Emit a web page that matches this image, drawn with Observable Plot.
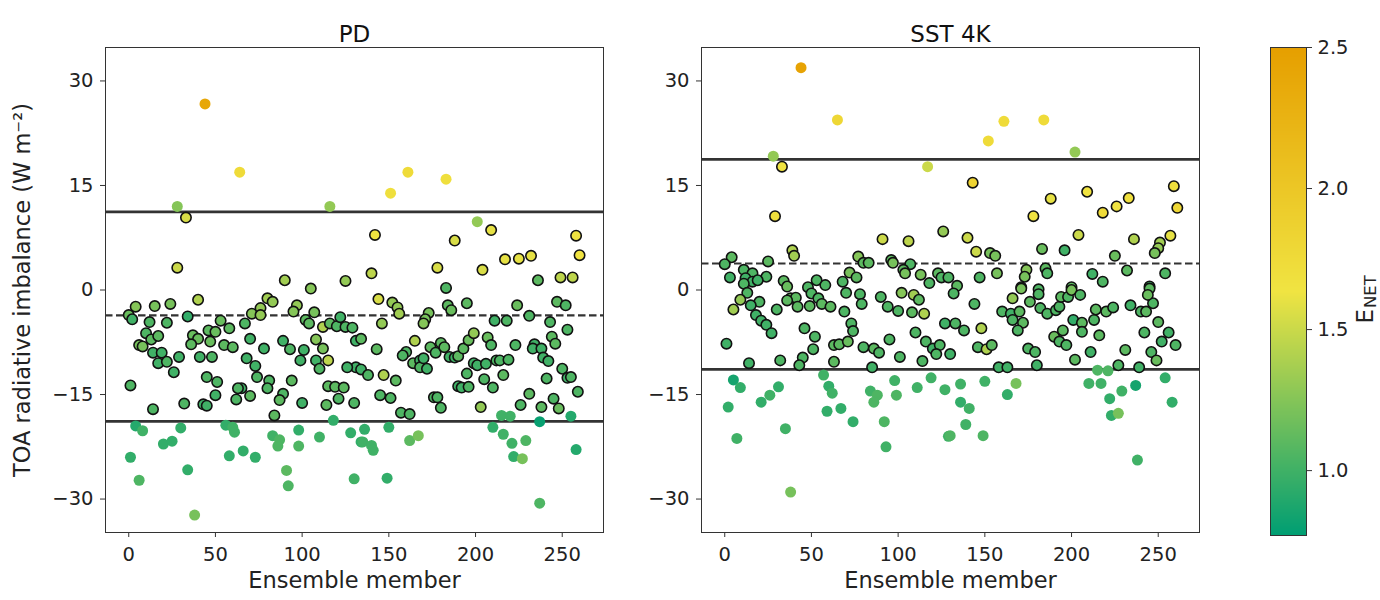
<!DOCTYPE html>
<html>
<head>
<meta charset="utf-8">
<script src="https://cdn.jsdelivr.net/npm/d3@7"></script>
<script src="https://cdn.jsdelivr.net/npm/@observablehq/plot@0.6"></script>
<style>
  html, body { margin: 0; padding: 0; background: #fff; }
  #fig { position: relative; width: 1380px; height: 600px; overflow: hidden; }
  #fig > svg { position: absolute; top: 0; }
</style>
</head>
<body>
<div id="fig"></div>
<script>
// Each run: [ensemble member, TOA radiative imbalance (W m-2), E_NET, inside the plausible band (1/0)]
const pdRuns = [
  [44,26.7,2.40,0],[64,16.9,1.75,0],[28,12.0,1.25,0],[33,10.4,1.55,1],[116,12.0,1.30,0],
  [28,3.2,1.50,1],[90,1.4,1.35,1],[105,0.2,1.25,1],[125,1.3,1.30,1],
  [161,16.9,1.75,0],[151,13.9,1.70,0],[183,15.9,1.70,0],[201,9.8,1.30,0],[209,8.6,1.60,1],
  [142,7.9,1.65,1],[188,7.1,1.55,1],[258,7.8,1.65,1],[260,5.0,1.65,1],[217,4.4,1.60,1],
  [225,4.5,1.60,1],[232,4.9,1.60,1],[178,3.2,1.55,1],[140,2.4,1.45,1],[204,2.9,1.55,1],
  [236,1.4,1.10,1],[249,1.8,1.45,1],[256,1.8,1.45,1],[183,0.3,1.05,1],
  [40,-1.4,1.40,1],[4,-2.4,1.25,1],[15,-2.3,1.20,1],[24,-2.0,1.20,1],[0,-3.6,1.15,1],
  [2,-4.2,1.00,1],[12,-4.6,1.05,1],[34,-3.8,0.95,1],[22,-4.7,1.05,1],[10,-6.2,1.05,1],
  [6,-7.9,1.20,1],[8,-8.1,1.20,1],[13,-7.1,1.10,1],[17,-6.6,1.10,1],[14,-9.0,1.00,1],
  [19,-9.0,1.00,1],[17,-10.5,1.00,1],[22,-10.3,1.05,1],[26,-11.8,1.00,1],[29,-9.6,1.00,1],
  [1,-13.7,1.05,1],[14,-17.1,1.05,1],[32,-16.3,1.05,1],[37,-6.5,1.15,1],[40,-7.0,1.15,1],
  [36,-7.8,1.10,1],[41,-9.6,1.00,1],[46,-5.8,1.10,1],[50,-6.0,1.15,1],[53,-4.4,1.15,1],
  [58,-5.5,1.10,1],[47,-7.4,1.15,1],[55,-7.9,1.10,1],[60,-8.2,1.10,1],[48,-9.6,1.05,1],
  [45,-12.5,1.05,1],[51,-13.2,1.05,1],[50,-15.1,1.00,1],[43,-16.4,1.00,1],[45,-16.6,1.00,1],
  [62,-15.7,1.05,1],[65,-14.1,1.00,1],[63,-14.1,1.05,1],[70,-15.2,1.10,1],[67,-4.8,1.05,1],
  [71,-3.4,1.25,1],[76,-2.6,1.30,1],[80,-1.2,1.35,1],[83,-1.7,1.30,1],[76,-3.6,1.30,1],
  [70,-7.0,1.00,1],[68,-9.8,1.00,1],[73,-10.9,1.00,1],[74,-12.5,1.05,1],[78,-8.4,1.00,1],
  [81,-13.0,1.05,1],[80,-14.1,1.05,1],[89,-14.9,1.05,1],[87,-15.8,1.10,1],[84,-18.0,1.10,1],
  [89,-7.3,1.00,1],[93,-8.5,1.05,1],[97,-2.2,1.30,1],[95,-3.1,1.25,1],[107,-3.2,1.20,1],
  [102,-4.3,1.10,1],[104,-4.8,1.10,1],[101,-8.6,1.00,1],[99,-10.1,1.00,1],[94,-13.0,1.10,1],
  [100,-16.2,1.00,1],[108,-7.1,1.25,1],[112,-8.4,1.20,1],[108,-10.1,1.00,1],[110,-11.3,1.05,1],
  [115,-10.1,1.45,1],[112,-5.3,1.40,1],[116,-4.8,1.10,1],[120,-5.2,1.05,1],[125,-5.3,1.05,1],
  [129,-5.4,1.05,1],[122,-3.9,1.00,1],[115,-13.8,1.10,1],[119,-13.9,1.10,1],[124,-14.0,1.10,1],
  [114,-16.5,1.10,1],[121,-15.6,1.05,1],[131,-7.3,1.00,1],[131,-11.1,1.00,1],[130,-16.2,1.05,1],
  [118,-18.7,0.95,0],[4,-19.5,0.90,0],[8,-20.2,1.00,0],[1,-24.0,0.95,0],[6,-27.3,1.05,0],
  [20,-22.1,0.95,0],[25,-21.7,0.95,0],[30,-19.8,0.95,0],[34,-25.8,0.95,0],[38,-32.3,1.20,0],
  [56,-19.4,0.95,0],[60,-19.7,1.00,0],[61,-20.4,1.00,0],[58,-23.8,0.95,0],[66,-23.1,0.95,0],
  [73,-24.0,0.95,0],[83,-20.9,1.00,0],[87,-21.5,1.05,0],[86,-22.4,1.05,0],[91,-25.9,1.10,0],
  [92,-28.1,1.05,0],[98,-20.1,0.95,0],[98,-22.4,1.05,0],[110,-21.1,1.00,0],[128,-20.5,0.95,0],
  [130,-27.1,1.00,0],[134,-21.8,0.95,0],
  [195,-1.9,1.10,1],[184,-2.2,1.10,1],[186,-2.9,1.15,1],[144,-1.3,1.55,1],[152,-1.8,1.30,1],
  [155,-2.5,1.30,1],[156,-3.4,1.35,1],[173,-3.3,1.20,1],[171,-4.2,1.20,1],[170,-4.8,1.25,1],
  [146,-4.8,1.30,1],[134,-7.0,1.10,1],[143,-8.5,1.10,1],[126,-11.1,1.00,1],[134,-11.4,1.00,1],
  [138,-12.2,1.05,1],[147,-12.2,1.40,1],[154,-13.0,1.10,1],[145,-15.1,1.05,1],[151,-15.5,1.05,1],
  [157,-17.6,1.05,1],[162,-17.8,1.05,1],[165,-7.3,1.40,1],[160,-8.9,1.05,1],[158,-9.4,1.05,1],
  [164,-10.5,1.10,1],[168,-10.1,1.00,1],[168,-11.1,1.05,1],[172,-11.3,1.00,1],[170,-9.8,1.00,1],
  [174,-8.2,1.10,1],[177,-9.0,1.05,1],[180,-7.6,1.10,1],[182,-8.2,1.10,1],[176,-15.4,1.05,1],
  [178,-15.4,1.05,1],[180,-16.9,1.05,1],[185,-9.6,1.00,1],[188,-9.7,1.00,1],[190,-9.5,1.10,1],
  [193,-8.4,1.10,1],[196,-7.2,1.15,1],[199,-6.2,1.30,1],[207,-6.8,1.15,1],[209,-7.9,1.05,1],
  [195,-12.0,1.05,1],[199,-10.5,1.00,1],[201,-10.8,1.00,1],[206,-10.6,1.00,1],[212,-10.1,1.05,1],
  [214,-10.1,1.05,1],[219,-10.0,1.05,1],[190,-13.8,1.00,1],[192,-14.0,1.00,1],[196,-13.9,1.05,1],
  [205,-12.8,1.05,1],[210,-14.0,1.05,1],[216,-12.2,1.10,1],[203,-16.8,1.30,1],[211,-4.4,1.00,1],
  [218,-4.4,1.05,1],[224,-2.2,1.15,1],[231,-3.7,1.05,1],[223,-7.9,1.05,1],[234,-7.8,1.00,1],
  [233,-8.4,1.00,1],[238,-8.4,1.00,1],[239,-9.7,1.00,1],[242,-10.2,1.00,1],[244,-6.7,1.10,1],
  [246,-7.7,1.10,1],[243,-4.6,1.05,1],[247,-1.7,1.10,1],[252,-2.2,1.05,1],[253,-5.7,1.05,1],
  [231,-14.9,1.10,1],[226,-16.5,1.05,1],[238,-16.8,1.10,1],[245,-15.6,1.05,1],[248,-17.0,1.15,1],
  [250,-11.3,1.05,1],[253,-12.6,1.00,1],[255,-12.5,1.05,1],[259,-14.6,1.05,1],[241,-12.7,1.05,1],
  [136,-20.0,0.95,0],[135,-21.8,1.00,0],[140,-22.3,1.00,0],[141,-23.0,1.00,0],[150,-19.7,0.95,0],
  [162,-21.6,1.10,0],[167,-20.9,1.20,0],[149,-27.0,0.95,0],[215,-18.0,1.00,0],[220,-18.1,1.00,0],
  [210,-19.7,0.95,0],[216,-20.7,1.00,0],[221,-22.0,1.00,0],[229,-21.6,1.05,0],[222,-23.9,0.95,0],
  [227,-24.2,1.20,0],[237,-18.9,0.80,0],[237,-30.6,1.05,0],[255,-18.1,0.90,0],[258,-22.9,0.90,0]
];

const sstRuns = [
  [44,31.9,2.45,0],[65,24.4,1.80,0],[28,19.2,1.30,0],[33,17.7,1.65,1],[117,17.7,1.50,0],
  [29,10.6,1.70,1],[126,8.4,1.30,1],[91,7.3,1.50,1],[106,7.0,1.45,1],[39,5.7,1.40,1],
  [40,4.9,1.35,1],[4,4.7,1.10,1],[0,3.7,1.05,1],[25,4.1,1.10,1],[77,4.8,1.25,1],
  [80,3.9,1.10,1],[83,3.9,1.10,1],[96,4.3,1.10,1],[97,3.9,1.20,1],[107,3.7,1.05,1],
  [103,2.9,1.10,1],[104,2.4,1.20,1],[113,2.2,1.20,1],[3,1.8,1.00,1],[11,2.9,1.05,1],
  [16,2.4,1.05,1],[12,1.7,1.00,1],[16,1.2,1.00,1],[24,1.9,1.05,1],[19,1.4,1.00,1],
  [34,1.3,1.10,1],[36,0.5,1.15,1],[53,1.4,1.05,1],[58,0.7,1.05,1],[48,0.4,1.05,1],
  [72,2.5,1.20,1],[76,1.8,1.10,1],[68,1.2,1.05,1],[118,1.0,1.05,1],[123,2.4,1.10,1],
  [125,1.8,1.05,1],[129,1.8,1.05,1],
  [161,24.2,1.75,0],[184,24.4,1.75,0],[152,21.4,1.75,0],[202,19.8,1.30,0],[143,15.4,1.85,1],
  [259,14.9,1.70,1],[261,11.8,1.80,1],[209,14.1,1.65,1],[188,13.1,1.60,1],[233,13.2,1.70,1],
  [226,12.0,1.65,1],[218,11.1,1.75,1],[178,10.6,1.65,1],[140,7.5,1.50,1],[204,7.9,1.50,1],
  [236,7.3,1.40,1],[257,7.8,1.60,1],[251,6.8,1.35,1],[250,6.0,1.30,1],[248,5.3,1.20,1],
  [145,5.5,1.50,1],[153,5.3,1.20,1],[156,4.9,1.20,1],[183,5.9,1.15,1],[196,5.7,1.00,1],
  [225,4.9,1.15,1],[157,2.4,1.20,1],[147,1.8,1.05,1],[174,2.9,1.25,1],[173,1.9,1.20,1],
  [185,3.1,1.10,1],[186,2.4,1.05,1],[212,2.3,1.00,1],[232,2.8,1.10,1],[254,2.4,1.05,1],
  [134,0.6,1.10,1],[171,0.4,1.05,1],[181,0.1,1.05,1],[200,0.4,1.10,1],[218,1.2,1.05,1],
  [245,0.5,1.00,1],
  [11,0.9,1.05,1],[13,-0.4,1.05,1],[9,-1.4,1.30,1],[5,-2.8,1.35,1],[20,-1.7,1.05,1],
  [15,-2.2,1.00,1],[18,-3.6,1.00,1],[21,-4.4,1.00,1],[24,-5.0,1.00,1],[27,-6.2,1.00,1],
  [1,-7.7,1.00,1],[14,-10.5,1.00,1],[30,-2.8,1.05,1],[38,-1.2,1.15,1],[41,-1.1,1.10,1],
  [42,-2.4,1.10,1],[36,-1.5,1.10,1],[32,-10.1,1.05,1],[50,-0.5,1.05,1],[49,-2.3,1.10,1],
  [54,-1.2,1.05,1],[56,-2.0,1.10,1],[61,-2.4,1.10,1],[46,-5.5,1.05,1],[52,-6.7,1.05,1],
  [51,-8.5,1.05,1],[45,-9.7,1.05,1],[43,-10.8,1.05,1],[63,-7.9,1.10,1],[66,-7.8,1.10,1],
  [71,-7.4,1.15,1],[63,-10.3,1.10,1],[69,-3.1,1.05,1],[70,-0.4,1.05,1],[73,-4.8,1.05,1],
  [74,-5.9,1.05,1],[78,-0.6,1.05,1],[79,-2.0,1.05,1],[90,-1.0,1.05,1],[80,-8.2,1.05,1],
  [86,-8.4,1.10,1],[89,-9.0,1.05,1],[85,-11.1,1.00,1],[95,-7.1,1.05,1],[101,-9.6,1.05,1],
  [94,-2.4,1.05,1],[100,-3.0,1.05,1],[102,-0.4,1.25,1],[108,-3.2,1.10,1],[109,-0.7,1.35,1],
  [112,-1.4,1.10,1],[115,-3.4,1.40,1],[110,-6.1,1.05,1],[116,-7.4,1.05,1],[120,-8.4,1.00,1],
  [124,-7.9,1.05,1],[122,-9.2,1.05,1],[114,-10.2,1.05,1],[127,-4.8,1.00,1],[130,-9.2,1.00,1],
  [5,-12.9,0.85,0],[9,-14.0,0.95,0],[2,-16.8,0.95,0],[7,-21.3,1.00,0],[21,-16.1,0.95,0],
  [26,-15.1,1.00,0],[31,-13.9,0.95,0],[35,-19.9,1.00,0],[38,-29.0,1.20,0],[57,-12.2,1.00,0],
  [60,-13.8,0.95,0],[62,-14.8,1.00,0],[59,-17.4,0.95,0],[67,-17.0,0.95,0],[74,-18.9,0.95,0],
  [84,-14.5,1.00,0],[88,-15.1,1.05,0],[86,-16.1,1.05,0],[92,-18.9,1.05,0],[93,-22.5,1.00,0],
  [98,-13.0,1.00,0],[99,-15.1,1.05,0],[111,-14.0,1.00,0],[119,-12.6,1.00,0],[127,-14.3,1.00,0],
  [129,-21.0,1.00,0],
  [132,-0.5,1.05,1],[144,-2.0,1.05,1],[133,-4.8,1.05,1],[138,-5.8,1.05,1],[148,-5.5,1.40,1],
  [146,-8.2,1.05,1],[151,-8.5,1.40,1],[154,-7.9,1.10,1],[158,-11.1,1.00,1],[163,-11.1,1.00,1],
  [160,-3.1,1.05,1],[165,-3.4,1.00,1],[170,-3.1,1.10,1],[166,-4.3,1.05,1],[172,-4.7,1.10,1],
  [169,-5.8,1.05,1],[166,-1.2,1.30,1],[171,0.2,1.20,1],[176,-1.7,1.10,1],[181,-0.6,1.05,1],
  [182,-2.6,1.05,1],[175,-8.4,1.05,1],[179,-8.9,1.05,1],[180,-10.8,1.00,1],[186,-3.4,1.05,1],
  [191,-2.9,1.05,1],[193,-2.4,1.05,1],[194,-1.0,1.10,1],[198,-1.0,1.05,1],[200,0.0,1.20,1],
  [205,-0.7,1.05,1],[190,-6.7,1.15,1],[193,-7.4,1.05,1],[197,-7.9,1.05,1],[195,-5.8,1.10,1],
  [201,-4.3,0.95,1],[206,-4.7,1.10,1],[206,-6.0,1.05,1],[213,-4.3,1.05,1],[216,-6.5,1.10,1],
  [211,-8.9,1.00,1],[202,-10.0,1.10,1],[214,-2.8,1.10,1],[220,-3.1,1.10,1],[224,-2.5,1.05,1],
  [227,-10.8,1.05,1],[239,-11.1,1.00,1],[231,-8.6,1.10,1],[234,-2.2,1.00,1],[240,-3.1,1.05,1],
  [243,-3.1,1.10,1],[247,-1.9,1.05,1],[245,0.2,1.10,1],[244,-0.7,1.15,1],[242,-6.1,1.05,1],
  [250,-4.6,1.10,1],[256,-6.1,1.00,1],[252,-7.4,1.00,1],[260,-7.9,1.05,1],[246,-8.9,1.05,1],
  [249,-10.1,1.15,1],
  [136,-13.5,1.00,0],[136,-16.1,0.95,0],[141,-17.0,1.00,0],[150,-13.1,1.00,0],[139,-19.3,1.00,0],
  [130,-20.9,1.05,0],[149,-20.9,1.05,0],[163,-15.0,0.95,0],[168,-13.4,1.20,0],[215,-11.5,1.05,0],
  [221,-11.6,1.05,0],[210,-13.4,1.00,0],[217,-13.4,1.00,0],[222,-15.6,0.95,0],[229,-14.5,1.00,0],
  [237,-13.7,0.85,0],[223,-18.0,0.95,0],[227,-17.7,1.20,0],[238,-24.4,1.00,0],[254,-12.6,0.95,0],
  [258,-16.1,0.95,0]
];

// Ensemble mean (dashed) and band limits (solid) for each experiment
const pdLines = { mean: -3.65, upper: 11.2, lower: -18.85 };
const sstLines = { mean: 3.8, upper: 18.75, lower: -11.4 };

const memberTicks = [0, 50, 100, 150, 200, 250];
const toaTicks = [-30, -15, 0, 15, 30];
const enetTicks = [1.0, 1.5, 2.0, 2.5];

// E_NET colour map: bluish green -> yellow -> orange
const enetDomain = [0.77, 1.635, 2.5];
const enetColors = ["#009E73", "#F0E442", "#E69F00"];

const font = '"DejaVu Sans", "Liberation Sans", sans-serif';
const ink = "#222";
const tickFont = 19.5;
const labelFont = 22.5;
const colorScale = { type: "linear", domain: enetDomain, range: enetColors, interpolate: "rgb" };

function panel(runs, lines, title, yLabel) {
  const rows = runs.map(([member, toa, enet, kept]) => ({ member, toa, enet, kept }));
  return Plot.plot({
    width: 620, height: 600,
    marginLeft: 105, marginRight: 17, marginTop: 47, marginBottom: 68,
    style: { background: "transparent", fontFamily: font, fontSize: tickFont + "px", color: ink, overflow: "visible" },
    x: { domain: [-13.4, 273.8] },
    y: { domain: [-34.8, 34.8] },
    color: colorScale,
    marks: [
      Plot.ruleY([lines.mean], { stroke: "#333", strokeWidth: 2.2, strokeDasharray: "7.5,3.5" }),
      Plot.ruleY([lines.upper, lines.lower], { stroke: "#333", strokeWidth: 2.8 }),
      Plot.dot(rows.filter(d => !d.kept), { x: "member", y: "toa", fill: "enet", r: 5.5 }),
      Plot.dot(rows.filter(d => d.kept), { x: "member", y: "toa", fill: "enet", r: 5.2, stroke: "#111", strokeWidth: 1.6 }),
      Plot.frame({ stroke: "#333" }),
      Plot.axisX(memberTicks, { tickSize: 5, tickPadding: 10, fontSize: tickFont, label: null, stroke: "#333" }),
      Plot.axisY(toaTicks, { tickSize: 5, tickPadding: 7, fontSize: tickFont, label: null, stroke: "#333" }),
      Plot.text([title], { frameAnchor: "top", dy: -22, fontSize: 23, fill: "#111" }),
      Plot.text(["Ensemble member"], { frameAnchor: "bottom", dy: 55, fontSize: labelFont, fill: ink }),
      yLabel ? Plot.text([yLabel], { frameAnchor: "left", textAnchor: "middle", dx: -83, rotate: -90, fontSize: labelFont, fill: ink }) : null
    ]
  });
}

const fig = document.getElementById("fig");

const left = panel(pdRuns, pdLines, "PD", "TOA radiative imbalance (W m\u207B\u00B2)");
left.style.left = "0px";
fig.appendChild(left);

const right = panel(sstRuns, sstLines, "SST 4K", null);
right.style.left = "596px";
fig.appendChild(right);

// Colour bar for E_NET
const cbar = Plot.plot({
  width: 180, height: 600,
  marginLeft: 70, marginRight: 74, marginTop: 47, marginBottom: 65,
  style: { background: "transparent", fontFamily: font, fontSize: tickFont + "px", color: ink, overflow: "visible" },
  x: { domain: [0, 1], axis: null },
  y: { domain: [enetDomain[0], enetDomain[2]], axis: null },
  color: colorScale,
  marks: [
    Plot.raster({ fill: (x, y) => y, x1: 0, x2: 1, y1: enetDomain[0], y2: enetDomain[2], width: 4, height: 488 }),
    Plot.frame({ stroke: "#333" }),
    Plot.axisY(enetTicks, { anchor: "right", tickFormat: d => d.toFixed(1), tickSize: 5, tickPadding: 6, fontSize: tickFont, label: null, stroke: "#333" }),
    Plot.text(["E"], { frameAnchor: "right", textAnchor: "start", dx: 59, dy: 32, rotate: -90, fontSize: 23, fill: ink }),
    Plot.text(["NET"], { frameAnchor: "right", textAnchor: "start", dx: 64, dy: 16.5, rotate: -90, fontSize: 16.5, fill: ink })
  ]
});
cbar.style.left = "1200px";
fig.appendChild(cbar);
</script>
</body>
</html>
